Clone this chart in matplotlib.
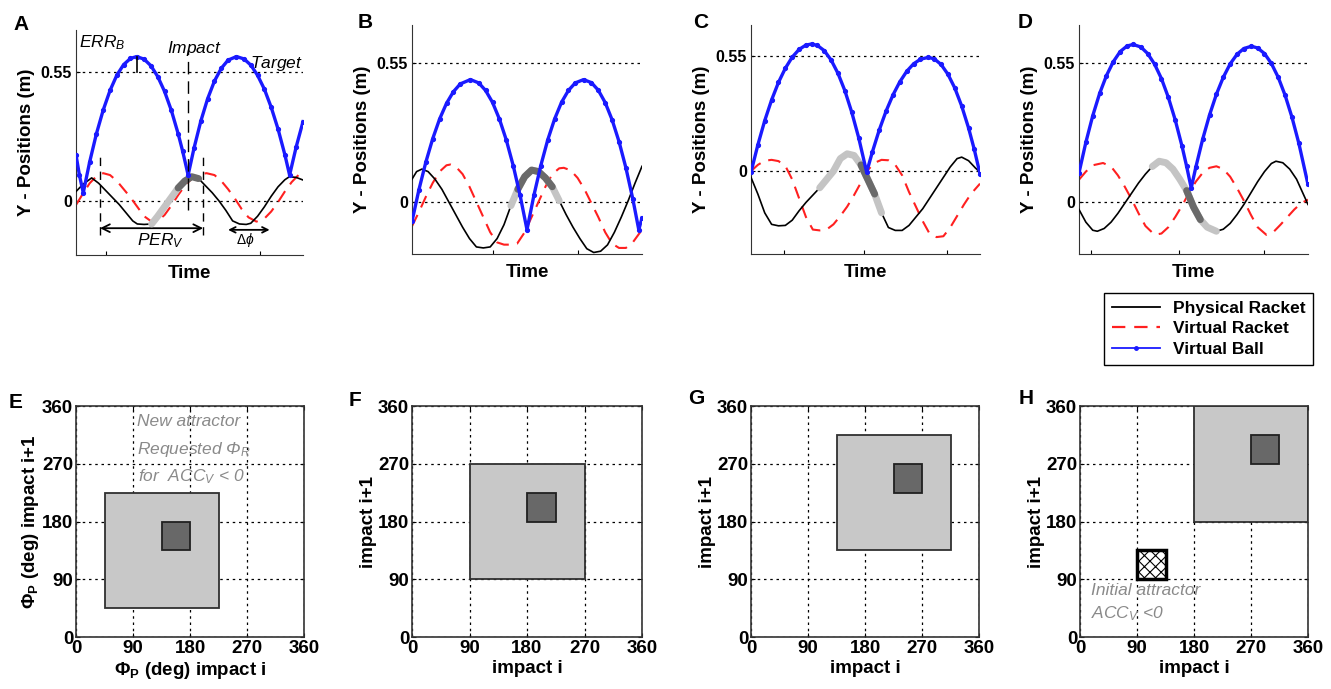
import matplotlib
matplotlib.use('Agg')
import matplotlib.pyplot as plt
from matplotlib.patches import Rectangle
from matplotlib.lines import Line2D

plt.rcParams['font.family'] = ['Liberation Sans', 'DejaVu Sans']
plt.rcParams['mathtext.fontset'] = 'custom'
plt.rcParams['mathtext.rm'] = 'Liberation Sans'
plt.rcParams['mathtext.it'] = 'Liberation Sans:italic'
plt.rcParams['mathtext.bf'] = 'Liberation Sans:bold'
plt.rcParams['hatch.linewidth'] = 0.8

NARROW = ['Liberation Sans Narrow', 'Liberation Sans']

# ---------------- top row data (time normalised 0..1, positions in m) ----------------
# panel A
a_t_ball = [0, 0.015, 0.032, 0.06, 0.09, 0.12, 0.15, 0.18, 0.21, 0.24, 0.267, 0.30, 0.33, 0.36, 0.39, 0.42,
            0.45, 0.47, 0.494, 0.52, 0.55, 0.58, 0.61, 0.64, 0.67, 0.707, 0.74, 0.77, 0.80, 0.83, 0.86, 0.89,
            0.92, 0.941, 0.97, 1.0]
a_ball = [0.196, 0.11, 0.035, 0.165, 0.286, 0.387, 0.470, 0.535, 0.580, 0.606, 0.614, 0.603, 0.575, 0.529,
          0.466, 0.385, 0.286, 0.211, 0.11, 0.225, 0.340, 0.435, 0.510, 0.564, 0.599, 0.614, 0.604, 0.578,
          0.534, 0.475, 0.398, 0.306, 0.197, 0.11, 0.23, 0.337]
a_t_phys = [0, 0.03, 0.069, 0.10, 0.13, 0.16, 0.19, 0.22, 0.25, 0.27, 0.30, 0.333, 0.36, 0.39, 0.42, 0.45,
            0.48, 0.51, 0.54, 0.57, 0.60, 0.63, 0.66, 0.69, 0.72, 0.75, 0.77, 0.80, 0.83, 0.86, 0.89, 0.92,
            0.94, 0.97, 1.0]
a_phys = [0.04, 0.07, 0.098, 0.075, 0.045, 0.015, -0.015, -0.05, -0.085, -0.098, -0.10, -0.098, -0.065,
          -0.025, 0.015, 0.055, 0.085, 0.103, 0.095, 0.065, 0.035, 0.0, -0.04, -0.085, -0.098, -0.10, -0.095,
          -0.065, -0.025, 0.02, 0.06, 0.09, 0.103, 0.10, 0.089]
a_t_virt = [0, 0.03, 0.06, 0.09, 0.12, 0.15, 0.18, 0.21, 0.24, 0.27, 0.30, 0.333, 0.36, 0.39, 0.42, 0.45,
            0.48, 0.51, 0.54, 0.575, 0.61, 0.64, 0.67, 0.70, 0.73, 0.76, 0.795, 0.83, 0.86, 0.89, 0.92, 0.95,
            0.98, 1.0]
a_virt = [-0.017, 0.03, 0.075, 0.105, 0.118, 0.11, 0.085, 0.05, 0.015, -0.025, -0.065, -0.088, -0.085,
          -0.06, -0.02, 0.025, 0.065, 0.095, 0.112, 0.118, 0.11, 0.085, 0.05, 0.01, -0.035, -0.07, -0.088,
          -0.075, -0.045, -0.005, 0.04, 0.08, 0.11, 0.125]

# panel B
b_t_ball = [0, 0.03, 0.06, 0.09, 0.12, 0.15, 0.18, 0.21, 0.254, 0.29, 0.32, 0.35, 0.38, 0.41, 0.44, 0.47,
            0.50, 0.53, 0.56, 0.59, 0.62, 0.65, 0.68, 0.71, 0.746, 0.78, 0.81, 0.84, 0.87, 0.90, 0.93, 0.96,
            0.986, 1.0]
b_ball = [-0.077, 0.048, 0.157, 0.250, 0.328, 0.390, 0.436, 0.467, 0.484, 0.471, 0.441, 0.394, 0.328, 0.245,
          0.144, 0.026, -0.11, 0.026, 0.144, 0.245, 0.328, 0.394, 0.441, 0.471, 0.484, 0.472, 0.442, 0.393,
          0.325, 0.239, 0.135, 0.012, -0.11, -0.063]
b_t_phys = [0, 0.02, 0.043, 0.07, 0.10, 0.13, 0.16, 0.19, 0.22, 0.25, 0.28, 0.31, 0.34, 0.37, 0.40, 0.43,
            0.46, 0.49, 0.52, 0.55, 0.58, 0.61, 0.64, 0.67, 0.70, 0.73, 0.76, 0.79, 0.82, 0.85, 0.88, 0.91,
            0.94, 0.97, 1.0]
b_phys = [0.09, 0.12, 0.13, 0.12, 0.09, 0.05, 0.0, -0.05, -0.10, -0.145, -0.178, -0.182, -0.178, -0.145,
          -0.09, -0.015, 0.05, 0.10, 0.126, 0.12, 0.095, 0.06, 0.005, -0.05, -0.10, -0.145, -0.185, -0.20,
          -0.195, -0.17, -0.12, -0.06, 0.005, 0.075, 0.141]
b_t_virt = [0, 0.03, 0.06, 0.09, 0.12, 0.15, 0.167, 0.19, 0.22, 0.25, 0.28, 0.31, 0.34, 0.37, 0.40, 0.43,
            0.457, 0.49, 0.52, 0.55, 0.58, 0.61, 0.64, 0.66, 0.69, 0.72, 0.75, 0.78, 0.81, 0.84, 0.87, 0.90,
            0.93, 0.96, 1.0]
b_virt = [-0.096, -0.04, 0.02, 0.075, 0.12, 0.145, 0.148, 0.14, 0.11, 0.06, 0.0, -0.06, -0.12, -0.16,
          -0.169, -0.169, -0.165, -0.12, -0.06, 0.0, 0.06, 0.11, 0.133, 0.135, 0.125, 0.095, 0.05, -0.005,
          -0.06, -0.12, -0.165, -0.182, -0.182, -0.16, -0.11]

# panel C
c_t_ball = [0, 0.03, 0.06, 0.09, 0.12, 0.15, 0.18, 0.21, 0.24, 0.265, 0.29, 0.32, 0.35, 0.38, 0.41, 0.44,
            0.47, 0.505, 0.53, 0.56, 0.59, 0.62, 0.65, 0.68, 0.71, 0.74, 0.774, 0.80, 0.83, 0.86, 0.89, 0.92,
            0.95, 0.975, 1.0]
c_ball = [-0.005, 0.126, 0.242, 0.341, 0.425, 0.493, 0.546, 0.583, 0.604, 0.609, 0.602, 0.577, 0.532, 0.468,
          0.385, 0.282, 0.161, -0.005, 0.092, 0.197, 0.288, 0.365, 0.428, 0.478, 0.514, 0.536, 0.545, 0.538,
          0.511, 0.464, 0.398, 0.312, 0.207, 0.104, -0.013]
c_t_phys = [0, 0.03, 0.06, 0.09, 0.12, 0.15, 0.18, 0.21, 0.24, 0.27, 0.30, 0.33, 0.36, 0.39, 0.42, 0.45,
            0.48, 0.51, 0.54, 0.57, 0.60, 0.63, 0.66, 0.69, 0.72, 0.75, 0.78, 0.81, 0.84, 0.87, 0.90, 0.92,
            0.95, 0.98, 1.0]
c_phys = [-0.03, -0.11, -0.20, -0.255, -0.262, -0.26, -0.235, -0.19, -0.15, -0.115, -0.08, -0.04, 0.0, 0.06,
          0.083, 0.075, 0.03, -0.04, -0.11, -0.20, -0.27, -0.284, -0.284, -0.26, -0.22, -0.18, -0.13, -0.08,
          -0.03, 0.02, 0.06, 0.067, 0.05, 0.015, -0.005]
c_t_virt = [0, 0.03, 0.06, 0.09, 0.12, 0.15, 0.18, 0.21, 0.24, 0.27, 0.30, 0.33, 0.36, 0.39, 0.42, 0.45,
            0.48, 0.51, 0.54, 0.57, 0.60, 0.63, 0.66, 0.69, 0.72, 0.75, 0.78, 0.81, 0.84, 0.87, 0.90, 0.93,
            0.96, 1.0]
c_virt = [0.0, 0.03, 0.05, 0.054, 0.048, 0.025, -0.04, -0.13, -0.22, -0.28, -0.284, -0.28, -0.255, -0.215,
          -0.17, -0.115, -0.055, 0.005, 0.04, 0.054, 0.052, 0.03, -0.02, -0.10, -0.17, -0.24, -0.30, -0.316,
          -0.312, -0.27, -0.215, -0.16, -0.11, -0.06]

# panel D
d_t_ball = [0, 0.03, 0.06, 0.09, 0.12, 0.15, 0.18, 0.21, 0.236, 0.27, 0.30, 0.33, 0.36, 0.39, 0.42, 0.45,
            0.47, 0.49, 0.51, 0.54, 0.57, 0.60, 0.63, 0.66, 0.69, 0.72, 0.753, 0.78, 0.81, 0.84, 0.87, 0.90,
            0.93, 0.96, 1.0]
d_ball = [0.115, 0.236, 0.341, 0.429, 0.500, 0.555, 0.595, 0.617, 0.623, 0.613, 0.587, 0.545, 0.488, 0.414,
          0.325, 0.220, 0.141, 0.055, 0.137, 0.248, 0.344, 0.426, 0.493, 0.546, 0.584, 0.607, 0.616, 0.609,
          0.587, 0.548, 0.493, 0.422, 0.335, 0.232, 0.069]
d_t_phys = [0, 0.03, 0.06, 0.08, 0.11, 0.14, 0.17, 0.20, 0.23, 0.26, 0.29, 0.32, 0.35, 0.38, 0.41, 0.44,
            0.47, 0.50, 0.53, 0.56, 0.60, 0.63, 0.66, 0.69, 0.72, 0.75, 0.78, 0.81, 0.84, 0.86, 0.89, 0.92,
            0.95, 0.98, 1.0]
d_phys = [-0.03, -0.08, -0.112, -0.116, -0.105, -0.08, -0.045, -0.005, 0.035, 0.075, 0.11, 0.14, 0.161,
          0.155, 0.13, 0.09, 0.045, -0.02, -0.07, -0.10, -0.116, -0.108, -0.085, -0.05, -0.01, 0.035, 0.08,
          0.12, 0.152, 0.161, 0.155, 0.13, 0.09, 0.03, -0.01]
d_t_virt = [0, 0.03, 0.06, 0.105, 0.14, 0.17, 0.20, 0.23, 0.26, 0.29, 0.33, 0.36, 0.39, 0.42, 0.45, 0.48,
            0.51, 0.54, 0.57, 0.60, 0.63, 0.66, 0.69, 0.72, 0.75, 0.78, 0.818, 0.85, 0.88, 0.91, 0.94, 0.97,
            1.0]
d_virt = [0.088, 0.12, 0.145, 0.154, 0.14, 0.105, 0.06, 0.01, -0.045, -0.095, -0.13, -0.125, -0.10, -0.06,
          -0.015, 0.035, 0.08, 0.115, 0.135, 0.141, 0.13, 0.10, 0.055, 0.005, -0.05, -0.10, -0.13, -0.118,
          -0.09, -0.06, -0.03, -0.005, 0.009]

# highlighted parts of the physical racket (time ranges): light grey, dark grey
a_light, a_dark = (0.333, 0.48), (0.45, 0.54)
b_light, b_dark = (0.43, 0.65), (0.46, 0.61)
c_light, c_dark = (0.29, 0.57), (0.47, 0.54)
d_light, d_dark = (0.32, 0.60), (0.46, 0.53)

# ---------------- bottom row data (deg) ----------------
e_outer, e_inner = (45, 225), (135, 180)
f_outer, f_inner = (90, 270), (180, 225)
g_outer, g_inner = (135, 315), (225, 270)
h_outer, h_inner = (180, 360), (270, 315)
h_initial = (90, 135)
deg_ticks = [0, 90, 180, 270, 360]

W, H = 1331, 689
fig = plt.figure(figsize=(W / 100, H / 100), dpi=100)


def rect(x0, x1, y0, y1):
    return [x0 / W, 1 - y1 / H, (x1 - x0) / W, (y1 - y0) / H]


DOT = (0, (2, 3))


def top_panel(r, letter, lx, ly, tb, yb, tp, yp, tv, yv, light, dark, ylim, xt):
    ax = fig.add_axes(r)
    ax.axhline(0, color='k', ls=DOT, lw=0.9, zorder=1)
    ax.axhline(0.55, color='k', ls=DOT, lw=0.9, zorder=1)
    ax.plot(tv, yv, color='#ff2020', ls=(0, (6, 4)), lw=1.5, zorder=2)
    ax.plot(tp, yp, color='k', lw=1.2, zorder=3)
    for rng, col in ((light, '#c4c4c4'), (dark, '#6a6a6a')):
        seg = [(t, y) for t, y in zip(tp, yp) if rng[0] <= t <= rng[1]]
        ax.plot([s[0] for s in seg], [s[1] for s in seg], color=col, lw=5,
                solid_capstyle='round', zorder=4)
    ax.plot(tb, yb, color='#1a1aff', lw=2.4, marker='.', ms=5.5, zorder=5)
    ax.set_xlim(0, 1)
    ax.set_ylim(*ylim)
    for s in ('top', 'right'):
        ax.spines[s].set_visible(False)
    ax.spines['left'].set_color('#333333')
    ax.spines['bottom'].set_color('#333333')
    ax.set_xticks(xt, [''] * len(xt))
    ax.set_yticks([0, 0.55], ['0', '0.55'], fontsize=11.5, fontweight='bold', fontfamily=NARROW)
    ax.tick_params(direction='in', length=3, pad=3)
    ax.set_xlabel('Time', fontsize=13.5, fontweight='bold', labelpad=4)
    ax.set_ylabel('Y - Positions (m)', fontsize=13.5, fontweight='bold', labelpad=4)
    fig.text(lx / W, 1 - ly / H, letter, fontsize=15, fontweight='bold', ha='center', va='center')
    return ax


def bottom_panel(r, letter, lx, ly, outer, inner, xlabel, ylabel):
    ax = fig.add_axes(r)
    ax.set_xlim(0, 360)
    ax.set_ylim(0, 360)
    ax.grid(True, color='k', ls=DOT, lw=0.9)
    ax.set_axisbelow(True)
    ax.add_patch(Rectangle((outer[0], outer[0]), outer[1] - outer[0], outer[1] - outer[0],
                           facecolor='#c8c8c8', edgecolor='#303030', lw=1.3, zorder=2))
    ax.add_patch(Rectangle((inner[0], inner[0]), inner[1] - inner[0], inner[1] - inner[0],
                           facecolor='#686868', edgecolor='#202020', lw=1.3, zorder=3))
    ax.set_xticks(deg_ticks, [str(v) for v in deg_ticks], fontsize=13.5, fontweight='bold', fontfamily=NARROW)
    ax.set_yticks(deg_ticks, [str(v) for v in deg_ticks], fontsize=13.5, fontweight='bold', fontfamily=NARROW)
    ax.tick_params(direction='in', length=3, pad=2, top=True, right=True)
    for s in ax.spines.values():
        s.set_color('#333333')
        s.set_linewidth(1.2)
    ax.set_xlabel(xlabel, fontsize=13.5, fontweight='bold', labelpad=2)
    ax.set_ylabel(ylabel, fontsize=13.5, fontweight='bold', labelpad=1)
    fig.text(lx / W, 1 - ly / H, letter, fontsize=15, fontweight='bold', ha='center', va='center')
    return ax


# ---------------- top row ----------------
axA = top_panel(rect(76, 303, 30, 255), 'A', 21, 25, a_t_ball, a_ball, a_t_phys, a_phys, a_t_virt, a_virt,
                a_light, a_dark, (-0.23, 0.727), [0.13, 0.81])
axB = top_panel(rect(412, 642, 25, 254), 'B', 365, 22, b_t_ball, b_ball, b_t_phys, b_phys, b_t_virt, b_virt,
                b_light, b_dark, (-0.206, 0.70), [0.35, 0.72])
axC = top_panel(rect(751, 980, 25, 254), 'C', 701, 22, c_t_ball, c_ball, c_t_phys, c_phys, c_t_virt, c_virt,
                c_light, c_dark, (-0.397, 0.70), [0.144, 0.493, 0.857])
axD = top_panel(rect(1079, 1308, 25, 254), 'D', 1025, 22, d_t_ball, d_ball, d_t_phys, d_phys, d_t_virt,
                d_virt, d_light, d_dark, (-0.206, 0.70), [0.054, 0.437, 0.806])

# annotations of panel A
ann = dict(fontsize=12.5, color='k')
axA.text(0.013, 0.675, r'$ERR_B$', ha='left', va='center', **ann)
axA.plot([0.267, 0.267], [0.55, 0.614], color='k', lw=1.2, zorder=6)
axA.text(0.52, 0.648, r'$Impact$', ha='center', va='center', **ann)
axA.plot([0.494, 0.494], [-0.038, 0.642], color='k', lw=1.0, ls=(0, (9, 5)), zorder=6)
axA.text(0.765, 0.585, r'$Target$', ha='left', va='center', **ann)
for tx in (0.106, 0.56):
    axA.plot([tx, tx], [-0.145, 0.196], color='k', lw=1.0, ls=(0, (6, 4)), zorder=6)
axA.annotate('', xy=(0.56, -0.116), xytext=(0.106, -0.116),
             arrowprops=dict(arrowstyle='<->', lw=1.3, color='k', shrinkA=0, shrinkB=0, mutation_scale=14))
axA.text(0.37, -0.168, r'$PER_V$', ha='center', va='center', **ann)
axA.annotate('', xy=(0.853, -0.123), xytext=(0.67, -0.123),
             arrowprops=dict(arrowstyle='<->', lw=1.3, color='k', shrinkA=0, shrinkB=0, mutation_scale=10))
axA.text(0.745, -0.168, r'$\Delta\phi$', ha='center', va='center', fontsize=10, color='k')

# legend
handles = [Line2D([], [], color='k', lw=1.3),
           Line2D([], [], color='#ff2020', lw=1.6, ls=(0, (6, 4))),
           Line2D([], [], color='#1a1aff', lw=1.3, marker='.', ms=5)]
fig.legend(handles, ['Physical Racket', 'Virtual Racket', 'Virtual Ball'],
           loc='upper left', bbox_to_anchor=(1104 / W, 1 - 293 / H), frameon=True, fancybox=False,
           edgecolor='k', framealpha=1, borderpad=0.45, labelspacing=0.3, handlelength=2.8,
           handletextpad=0.7, borderaxespad=0, prop=dict(weight='bold', size=12.5))

# ---------------- bottom row ----------------
axE = bottom_panel(rect(76, 304, 406, 637), 'E', 16, 402, e_outer, e_inner,
                   r'Φ$_{\mathbf{P}}$ (deg) impact i', r'Φ$_{\mathbf{P}}$ (deg) impact i+1')
axF = bottom_panel(rect(412, 642, 406, 637), 'F', 355, 400, f_outer, f_inner, 'impact i', 'impact i+1')
axG = bottom_panel(rect(751, 979, 406, 637), 'G', 696, 398, g_outer, g_inner, 'impact i', 'impact i+1')
axH = bottom_panel(rect(1080, 1308, 406, 637), 'H', 1026, 398, h_outer, h_inner, 'impact i', 'impact i+1')
axH.add_patch(Rectangle((h_initial[0], h_initial[0]), h_initial[1] - h_initial[0], h_initial[1] - h_initial[0],
                        facecolor='white', edgecolor='k', lw=2.5, hatch='xxx', zorder=3))

grey = dict(fontsize=12.5, color='#8a8a8a', style='italic', ha='left', va='center', zorder=5)
axE.text(96, 336, 'New attractor', **grey)
axE.text(96, 292, r'Requested Φ$_{R}$', **grey)
axE.text(98, 250, r'for  ACC$_{V}$ < 0', **grey)
axH.text(18, 72, 'Initial attractor', **grey)
axH.text(18, 37, r'ACC$_{V}$ <0', **grey)

fig.savefig('out.png', dpi=100)
